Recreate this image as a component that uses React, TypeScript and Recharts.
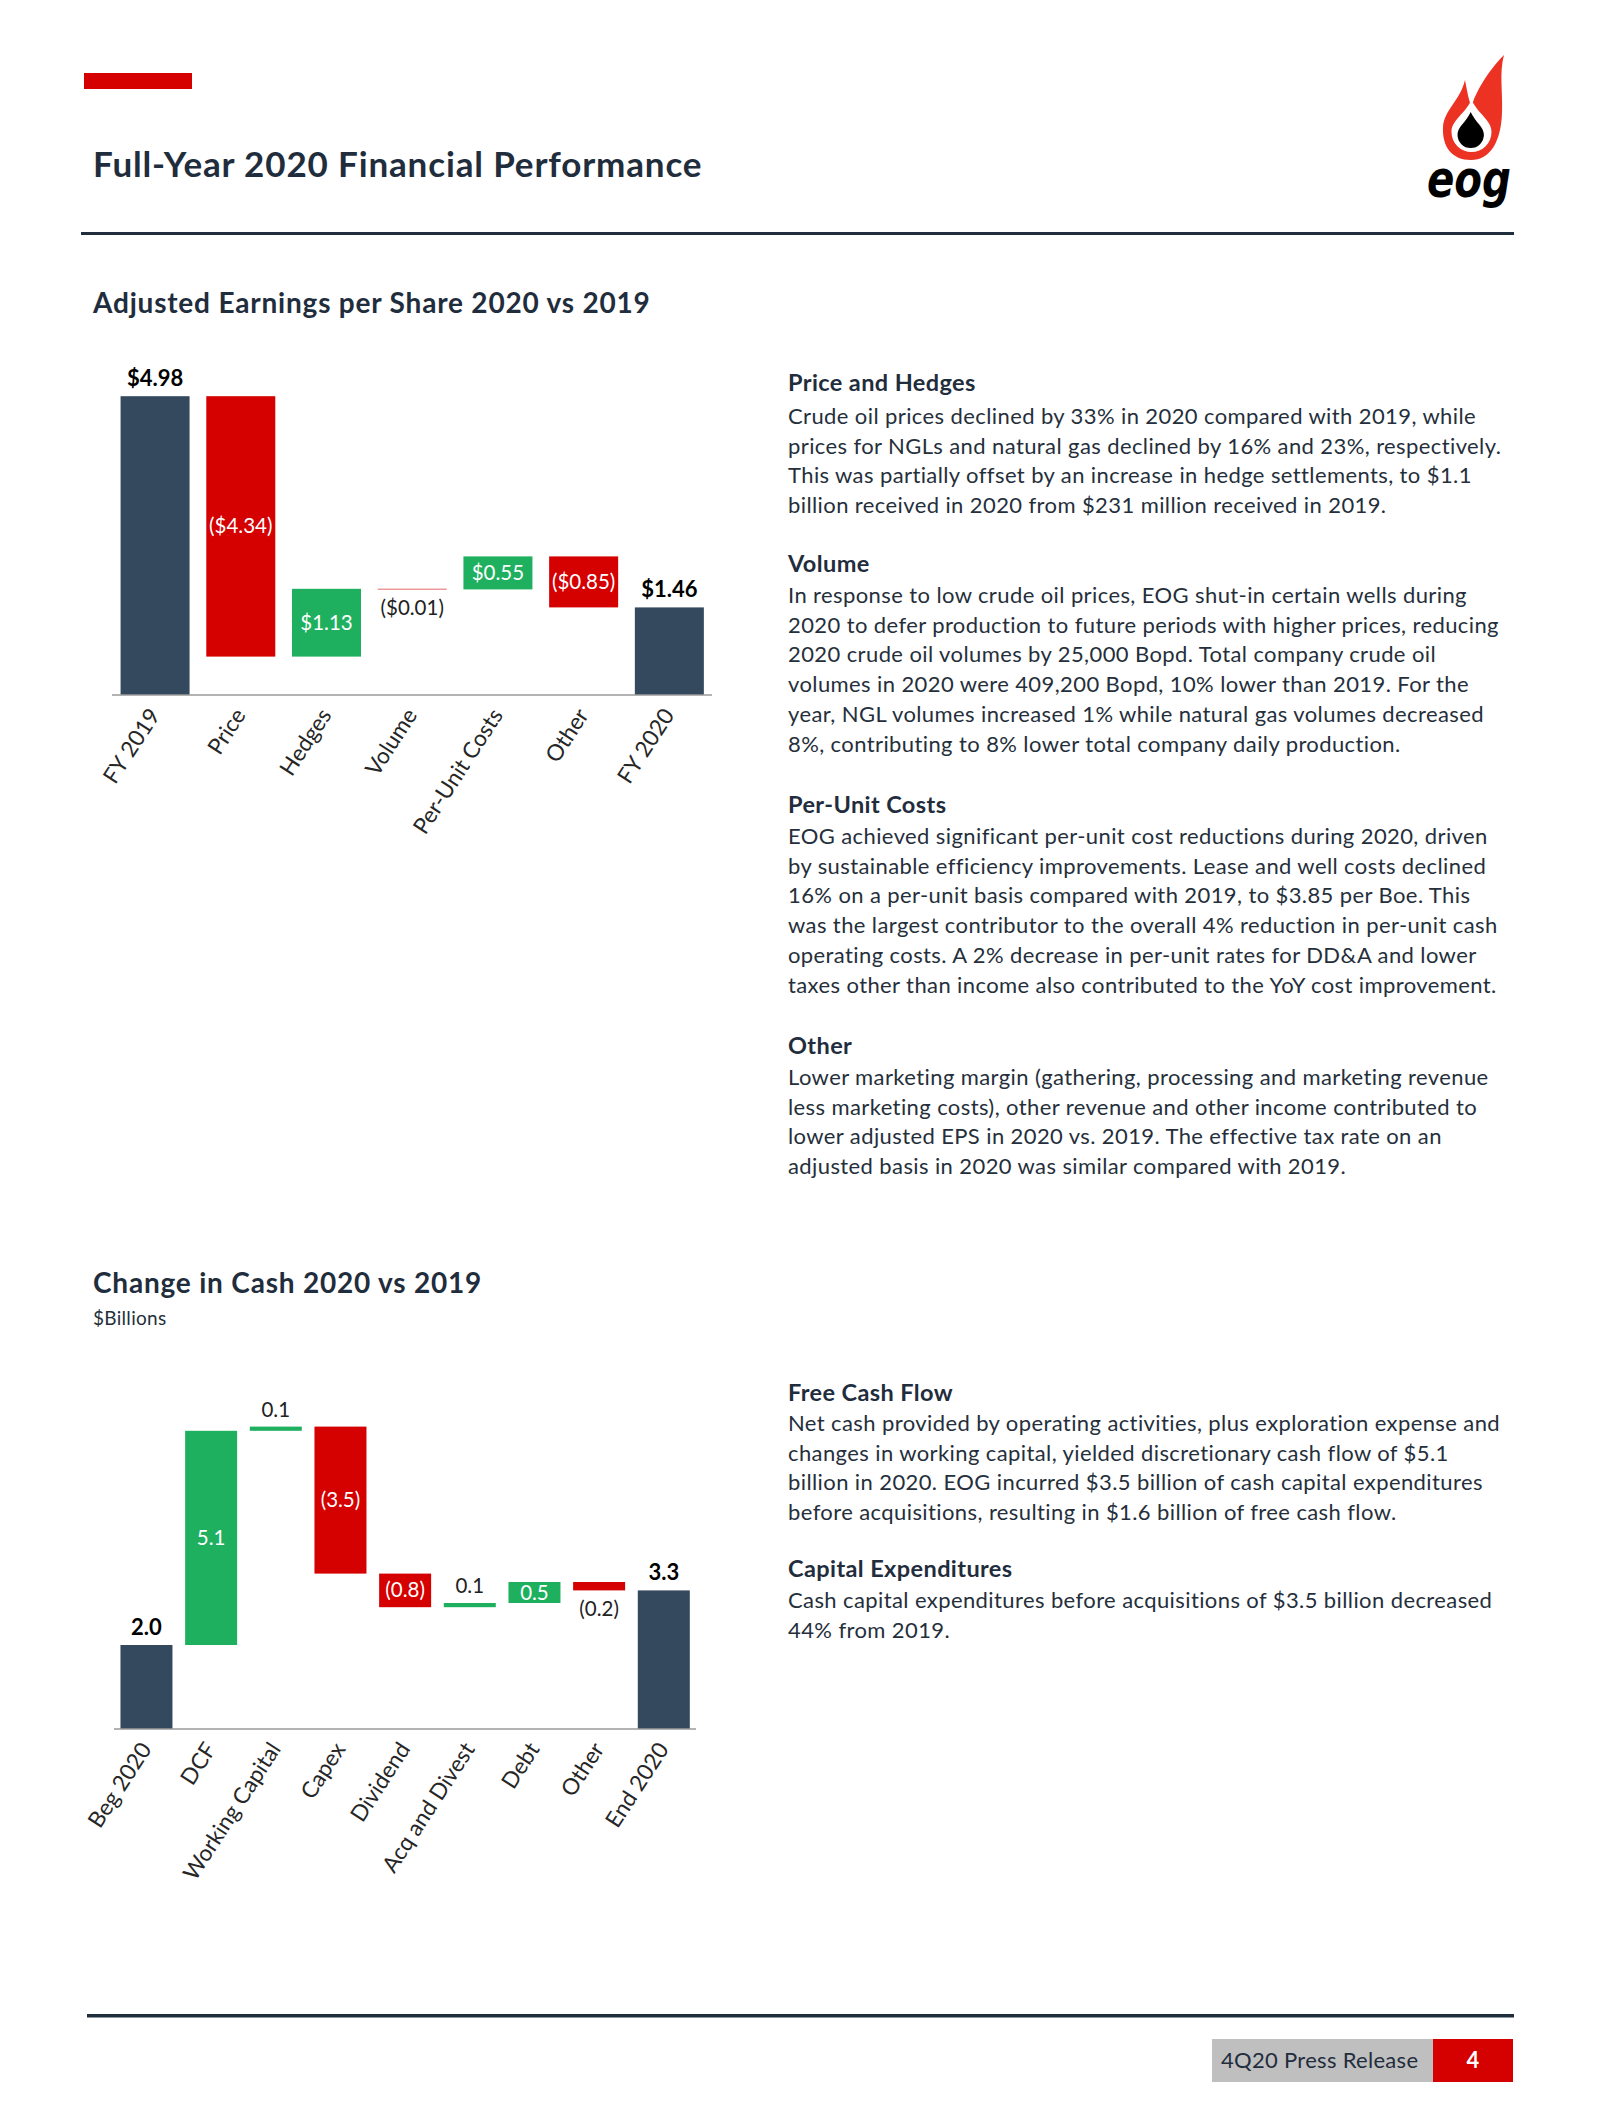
import React from "react";
import { Bar, BarChart, XAxis, YAxis } from "recharts";

// EPS bridge, $ per share
const epsCategories = ["FY 2019", "Price", "Hedges", "Volume", "Per-Unit Costs", "Other", "FY 2020"];
const epsValues = [4.98, -4.34, 1.13, -0.01, 0.55, -0.85, 1.46];
const epsTotals = [true, false, false, false, false, false, true];

// cash bridge, $ billions
const cashCategories = ["Beg 2020", "DCF", "Working Capital", "Capex", "Dividend", "Acq and Divest", "Debt", "Other", "End 2020"];
const cashValues = [2.0, 5.1, 0.1, -3.5, -0.8, 0.1, 0.5, -0.2, 3.3];
const cashTotals = [true, false, false, false, false, false, false, false, true];

const priceLines = [
  "Crude oil prices declined by 33% in 2020 compared with 2019, while",
  "prices for NGLs and natural gas declined by 16% and 23%, respectively.",
  "This was partially offset by an increase in hedge settlements, to $1.1",
  "billion received in 2020 from $231 million received in 2019.",
];
const volumeLines = [
  "In response to low crude oil prices, EOG shut-in certain wells during",
  "2020 to defer production to future periods with higher prices, reducing",
  "2020 crude oil volumes by 25,000 Bopd. Total company crude oil",
  "volumes in 2020 were 409,200 Bopd, 10% lower than 2019. For the",
  "year, NGL volumes increased 1% while natural gas volumes decreased",
  "8%, contributing to 8% lower total company daily production.",
];
const perUnitLines = [
  "EOG achieved significant per-unit cost reductions during 2020, driven",
  "by sustainable efficiency improvements. Lease and well costs declined",
  "16% on a per-unit basis compared with 2019, to $3.85 per Boe. This",
  "was the largest contributor to the overall 4% reduction in per-unit cash",
  "operating costs. A 2% decrease in per-unit rates for DD&A and lower",
  "taxes other than income also contributed to the YoY cost improvement.",
];
const otherLines = [
  "Lower marketing margin (gathering, processing and marketing revenue",
  "less marketing costs), other revenue and other income contributed to",
  "lower adjusted EPS in 2020 vs. 2019. The effective tax rate on an",
  "adjusted basis in 2020 was similar compared with 2019.",
];
const fcfLines = [
  "Net cash provided by operating activities, plus exploration expense and",
  "changes in working capital, yielded discretionary cash flow of $5.1",
  "billion in 2020. EOG incurred $3.5 billion of cash capital expenditures",
  "before acquisitions, resulting in $1.6 billion of free cash flow.",
];
const capexLines = [
  "Cash capital expenditures before acquisitions of $3.5 billion decreased",
  "44% from 2019.",
];

const NAVY = "#1f2d3d";
const TEXT = "#252f3b";
const SLATE = "#35495e";
const RED = "#d50000";
const GREEN = "#1eb05e";
const FONT = "Lato, 'Open Sans', sans-serif";

function buildWaterfall(cats: string[], vals: number[], totals: boolean[], fmt: (v: number) => string) {
  let run = 0;
  return cats.map((name, i) => {
    const v = vals[i];
    let range: number[];
    if (totals[i]) {
      range = [0, v];
      run = v;
    } else {
      const next = run + v;
      range = [Math.min(run, next), Math.max(run, next)];
      run = next;
    }
    return { name, range, delta: v, isTotal: totals[i], label: fmt(v) };
  });
}

const fmtEps = (v: number) => (v < 0 ? `($${Math.abs(v).toFixed(2)})` : `$${v.toFixed(2)}`);
const fmtCash = (v: number) => (v < 0 ? `(${Math.abs(v).toFixed(1)})` : v.toFixed(1));

const epsData = buildWaterfall(epsCategories, epsValues, epsTotals, fmtEps);
const cashData = buildWaterfall(cashCategories, cashValues, cashTotals, fmtCash);

const WaterfallBar = (props: any) => {
  const { x, y, width, height, payload } = props;
  const top = Math.min(y, y + height);
  const h = Math.abs(height);
  const fill = payload.isTotal ? SLATE : payload.delta < 0 ? RED : GREEN;
  const cx = x + width / 2;
  let label;
  if (payload.isTotal) {
    label = (
      <text x={cx} y={top - 10} textAnchor="middle" fontFamily={FONT} fontWeight={700} fontSize={22} fill="#000">
        {payload.label}
      </text>
    );
  } else if (h < 15) {
    // thin bars get their label outside
    const ly = payload.delta > 0 ? top - 10 : top + h + 26;
    label = (
      <text x={cx} y={ly} textAnchor="middle" fontFamily={FONT} fontSize={20.5} fill="#222">
        {payload.label}
      </text>
    );
  } else {
    label = (
      <text x={cx} y={top + h / 2 + 7} textAnchor="middle" fontFamily={FONT} fontSize={20.5} fill="#fff">
        {payload.label}
      </text>
    );
  }
  return (
    <g>
      <rect x={x} y={top} width={width} height={h} fill={fill} />
      {label}
    </g>
  );
};

const AngledTick = (props: any) => {
  const { x, y, payload } = props;
  const tx = x + 6;
  const ty = y + 12;
  return (
    <text x={tx} y={ty} transform={`rotate(-57, ${tx}, ${ty})`} textAnchor="end" fontFamily={FONT} fontSize={22.5} fill="#262626">
      {payload.value}
    </text>
  );
};

function TextBlock({ heading, headY, bodyY, lines }: { heading: string; headY: number; bodyY: number; lines: string[] }) {
  return (
    <g fontFamily={FONT}>
      <text x={788} y={headY} fontSize={23.5} letterSpacing={0.4} fontWeight={700} fill={NAVY}>
        {heading}
      </text>
      {lines.map((l, i) => (
        <text key={i} x={788} y={bodyY + i * 29.7} fontSize={22} letterSpacing={0.4} fill={TEXT}>
          {l}
        </text>
      ))}
    </g>
  );
}

function teardrop(cx: number, top: number, bottom: number, r: number) {
  const cy = bottom - r;
  const my = top + (cy - top) * 0.45;
  return `M${cx},${top} C${cx + r * 0.35},${my} ${cx + r},${cy - r * 0.6} ${cx + r},${cy} A${r},${r} 0 0 1 ${cx - r},${cy} C${cx - r},${cy - r * 0.6} ${cx - r * 0.35},${my} ${cx},${top} Z`;
}

function Logo() {
  return (
    <g>
      <g transform="translate(1440,53)">
        <path
          d="M31,107 C12,107 2,94 3,74 C4,57 20,48 25,27 C27,38 29,48 31.5,54 C35,40 48,18 64,2 C59,20 63,40 62,60 C61,89 50,107 31,107 Z"
          fill="#ec3223"
        />
        <path d={teardrop(31.5, 47, 99, 20)} fill="#fff" />
        <path d={teardrop(30.7, 59, 95, 13.2)} fill="#000" />
      </g>
      <text x={1427} y={197} fontFamily="'DejaVu Sans', sans-serif" fontWeight={700} fontStyle="italic" fontSize={52} textLength={84} lengthAdjust="spacingAndGlyphs" fill="#000">
        eog
      </text>
    </g>
  );
}

export default function App() {
  return (
    <div style={{ position: "absolute", left: 0, top: 0, width: 1600, height: 2128, background: "#fff", overflow: "hidden" }}>
      <svg width={1600} height={2128} style={{ position: "absolute", left: 0, top: 0 }}>
        {/* header */}
        <rect x={84} y={73} width={108} height={16} fill={RED} />
        <text x={93} y={177} fontFamily={FONT} fontWeight={700} fontSize={35} letterSpacing={0.85} fill={NAVY}>
          Full-Year 2020 Financial Performance
        </text>
        <Logo />
        <rect x={81} y={232} width={1433} height={3} fill={NAVY} />

        <text x={93} y={313} fontFamily={FONT} fontWeight={700} fontSize={28} letterSpacing={0.8} fill={NAVY}>
          Adjusted Earnings per Share 2020 vs 2019
        </text>

        <TextBlock heading="Price and Hedges" headY={391} bodyY={424} lines={priceLines} />
        <TextBlock heading="Volume" headY={571.5} bodyY={603} lines={volumeLines} />
        <TextBlock heading="Per-Unit Costs" headY={812.7} bodyY={844} lines={perUnitLines} />
        <TextBlock heading="Other" headY={1053.5} bodyY={1085} lines={otherLines} />

        <text x={93} y={1293} fontFamily={FONT} fontWeight={700} fontSize={28} letterSpacing={0.8} fill={NAVY}>
          Change in Cash 2020 vs 2019
        </text>
        <text x={93} y={1325} fontFamily={FONT} fontSize={19} letterSpacing={0.3} fill={TEXT}>
          $Billions
        </text>

        <TextBlock heading="Free Cash Flow" headY={1401} bodyY={1431} lines={fcfLines} />
        <TextBlock heading="Capital Expenditures" headY={1577} bodyY={1608} lines={capexLines} />

        {/* footer */}
        <rect x={87} y={2014} width={1427} height={3.5} fill={NAVY} />
        <rect x={1212} y={2039} width={221} height={43} fill="#bfbfbf" />
        <text x={1221} y={2068} fontFamily={FONT} fontSize={22} letterSpacing={0.3} fill={NAVY}>
          4Q20 Press Release
        </text>
        <rect x={1433} y={2039} width={80} height={43} fill={RED} />
        <text x={1473} y={2068} textAnchor="middle" fontFamily={FONT} fontWeight={700} fontSize={22} fill="#fff">
          4
        </text>
      </svg>

      <div style={{ position: "absolute", left: 40, top: 340 }}>
        <BarChart width={700} height={520} data={epsData} margin={{ top: 55, right: 28, left: 72, bottom: 0 }} barCategoryGap="10%">
          <XAxis
            dataKey="name"
            interval={0}
            tickLine={false}
            axisLine={{ stroke: "#9a9a9a", strokeWidth: 1.5 }}
            tick={<AngledTick />}
            height={165}
          />
          <YAxis hide domain={[0, 5]} />
          <Bar dataKey="range" isAnimationActive={false} shape={<WaterfallBar />} />
        </BarChart>
      </div>

      <div style={{ position: "absolute", left: 40, top: 1340 }}>
        <BarChart width={700} height={589} data={cashData} margin={{ top: 53, right: 44, left: 74, bottom: 0 }} barCategoryGap="10%">
          <XAxis
            dataKey="name"
            interval={0}
            tickLine={false}
            axisLine={{ stroke: "#9a9a9a", strokeWidth: 1.5 }}
            tick={<AngledTick />}
            height={200}
          />
          <YAxis hide domain={[0, 8]} />
          <Bar dataKey="range" isAnimationActive={false} shape={<WaterfallBar />} />
        </BarChart>
      </div>
    </div>
  );
}
